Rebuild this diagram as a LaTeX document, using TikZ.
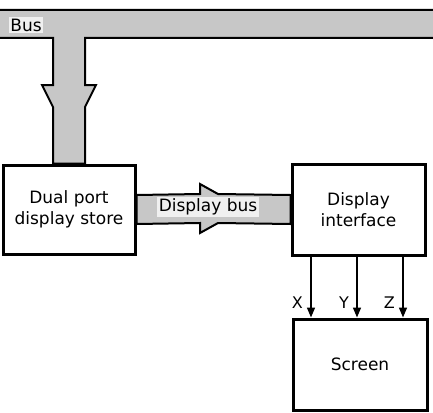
\documentclass[tikz,border=0pt]{standalone}
\usepackage{fontspec}
\setmainfont{DejaVu Sans}
\usetikzlibrary{arrows.meta,positioning}
\tikzset{
  unit/.style={
    draw,
    line width=3pt,
    fill=white,
    align=center,
    inner sep=0pt,
    font=\fontsize{17}{21}\selectfont
  },
  busway/.style={
    draw,
    line width=2pt,
    fill=black!22,
    line join=miter
  },
  buslabel/.style={
    fill=black!6,
    inner sep=1.5pt,
    font=\fontsize{17}{21}\selectfont
  },
  sig/.style={
    -{Triangle[length=10pt,width=8pt]},
    line width=1.5pt
  }
}

\begin{document}
\begin{tikzpicture}[x=1pt,y=-1pt]
\useasboundingbox (0,0) rectangle (433,412);
\node[unit, minimum width=132pt, minimum height=89pt] (store) at (69,209.5) {Dual port\\display store};
\node[unit, minimum width=133pt, minimum height=91pt] (iface) at (358.5,209.5) {Display\\interface};
\node[unit, minimum width=134pt, minimum height=91pt] (screen) at (360,364.5) {Screen};
% system bus and its branch down to the store
\draw[busway] (-10,10) -- (445,10) -- (445,38) -- (85,38) -- (85,85) -- (96,85)
  -- (85,107) -- ([xshift=16pt]store.north) -- ([xshift=-16pt]store.north)
  -- (53,107) -- (42,85) -- (53,85) -- (53,38) -- (-10,38) -- cycle;
\node[buslabel] (bus) at (26,25) {Bus};
% display bus
\draw[busway] ([yshift=14.5pt]store.east) -- (200,194) -- (200,184) -- (218,194)
  -- ([yshift=14.5pt]iface.west) -- ([yshift=-14.5pt]iface.west) -- (218,223)
  -- (200,233) -- (200,223) -- ([yshift=-14.5pt]store.east) -- cycle;
\node[buslabel] (dbus) at (208,207) {Display bus};
% deflection signals
\foreach \dx/\lab in {-47.5/X, -1.5/Y, 44.5/Z}
  \draw[sig] ([xshift=\dx pt]iface.south) -- ([xshift=\dx pt]iface.south |- screen.north)
    node[pos=0.75, left=4pt, font=\fontsize{16}{18}\selectfont] {\lab};
\end{tikzpicture}
\end{document}
